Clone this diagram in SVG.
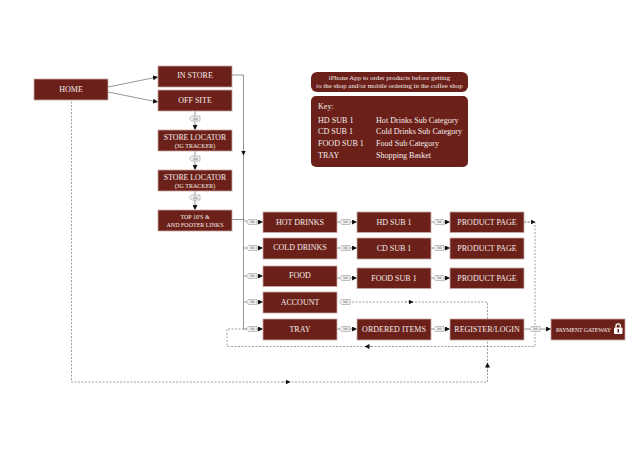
<svg xmlns="http://www.w3.org/2000/svg" width="640" height="453" viewBox="0 0 640 453">
<defs>
<marker id="a" markerWidth="5" markerHeight="5" refX="4.500" refY="2.500" orient="auto" markerUnits="userSpaceOnUse"><path d="M0,0L5,2.500L0,5Z" fill="#111"/></marker>
<g id="lh"><path d="M-5.500,0L-3.500,-2.500H5V2.500H-3.500Z" fill="#f2f2f2" stroke="#999" stroke-width=".6"/><text x="0.500" y="1.200" class="l">link</text></g>
</defs>
<style>
text{font-family:"Liberation Serif",serif;fill:#f5ecea;text-anchor:middle}
.n{fill:#6b211a;stroke:#c9a8a4;stroke-width:.8}
.t{font-size:8px}
.u{font-size:7.800px}
.s{font-size:6px}
.m{font-size:6.900px}
.k{font-size:8.100px;text-anchor:start}
.l{font-size:3px;fill:#555}
.c{fill:none;stroke:#8a8a8a;stroke-width:.9}
.d{fill:none;stroke:#777;stroke-width:.7;stroke-dasharray:2 1.500}
</style>
<rect width="640" height="453" fill="#fff"/>
<g id="connectors">
<path class="c" d="M108,87L157.500,77" marker-end="url(#a)"/>
<path class="c" d="M108,92L157.500,102" marker-end="url(#a)"/>
<path class="c" d="M195,111V129.500" marker-end="url(#a)"/>
<path class="c" d="M195,151V169.500" marker-end="url(#a)"/>
<path class="c" d="M195,191V209.500" marker-end="url(#a)"/>
<path class="c" d="M232,75H243.500V329H262" />
<path class="c" d="M243.500,150V155" marker-end="url(#a)"/>
<path class="c" d="M232,219.500H243.500L247,222H262.500" marker-end="url(#a)"/>
<path class="c" d="M243.500,248H262.500" marker-end="url(#a)"/>
<path class="c" d="M243.500,276H262.500" marker-end="url(#a)"/>
<path class="c" d="M243.500,302H262.500" marker-end="url(#a)"/>
<path class="c" d="M250,329H262.500" marker-end="url(#a)"/>
<path class="c" d="M337,222H356.500" marker-end="url(#a)"/>
<path class="c" d="M337,248H356.500" marker-end="url(#a)"/>
<path class="c" d="M337,278H356.500" marker-end="url(#a)"/>
<path class="c" d="M337,329H356.500" marker-end="url(#a)"/>
<path class="c" d="M431,222H449.500" marker-end="url(#a)"/>
<path class="c" d="M431,248H449.500" marker-end="url(#a)"/>
<path class="c" d="M431,278H449.500" marker-end="url(#a)"/>
<path class="c" d="M431,329H449.500" marker-end="url(#a)"/>
<path class="c" d="M524,329H550.500" marker-end="url(#a)"/>
<path class="d" d="M524,222H535V346.500H227V329H246"/>
<path class="d" d="M524,222H535" marker-end="url(#a)"/>
<path class="d" d="M372,346.500H365" marker-end="url(#a)"/>
<path class="d" d="M345,302H487.500V382H71.500V100"/>
<path class="d" d="M405,302H413" marker-end="url(#a)"/>
<path class="d" d="M487.500,372V363" marker-end="url(#a)"/>
<path class="d" d="M282,382H290" marker-end="url(#a)"/>
<use href="#lh" x="195" y="118.500"/>
<use href="#lh" x="195" y="158.500"/>
<use href="#lh" x="195" y="197.500"/>
<use href="#lh" x="252" y="222"/>
<use href="#lh" x="252" y="248"/>
<use href="#lh" x="252" y="276"/>
<use href="#lh" x="252" y="302"/>
<use href="#lh" x="252" y="329"/>
<use href="#lh" x="345" y="222"/>
<use href="#lh" x="345" y="248"/>
<use href="#lh" x="345" y="278"/>
<use href="#lh" x="345" y="302"/>
<use href="#lh" x="345" y="329"/>
<use href="#lh" x="439" y="222"/>
<use href="#lh" x="439" y="248"/>
<use href="#lh" x="439" y="278"/>
<use href="#lh" x="439" y="329"/>
<use href="#lh" x="535" y="329"/>
</g>
<g id="home"><rect class="n" x="34" y="79" width="74" height="21"/><text class="t" x="71" y="92">HOME</text></g>
<g id="in-store"><rect class="n" x="158" y="66" width="74" height="21"/><text class="t" x="195" y="78">IN STORE</text></g>
<g id="off-site"><rect class="n" x="158" y="90" width="74" height="21"/><text class="t" x="195" y="103">OFF SITE</text></g>
<g id="store-locator-1"><rect class="n" x="158" y="130" width="74" height="21"/><text class="u" x="195" y="139.500">STORE LOCATOR</text><text class="s" x="195" y="147.500">(3G TRACKER)</text></g>
<g id="store-locator-2"><rect class="n" x="158" y="170" width="74" height="21"/><text class="u" x="195" y="179.500">STORE LOCATOR</text><text class="s" x="195" y="187.500">(3G TRACKER)</text></g>
<g id="top-10"><rect class="n" x="158" y="210" width="74" height="21"/><text class="s" x="195" y="219">TOP 10'S &amp;</text><text class="s" x="195" y="226.500">AND FOOTER LINKS</text></g>
<g id="hot-drinks"><rect class="n" x="263" y="212" width="74" height="20.500"/><text class="t" x="300" y="224.500">HOT DRINKS</text></g>
<g id="cold-drinks"><rect class="n" x="263" y="238" width="74" height="21"/><text class="t" x="300" y="250">COLD DRINKS</text></g>
<g id="food"><rect class="n" x="263" y="266" width="74" height="20.500"/><text class="t" x="300" y="278">FOOD</text></g>
<g id="account"><rect class="n" x="263" y="292" width="74" height="21"/><text class="t" x="300" y="304.500">ACCOUNT</text></g>
<g id="tray"><rect class="n" x="263" y="319" width="74" height="21"/><text class="t" x="300" y="331.500">TRAY</text></g>
<g id="hd-sub"><rect class="n" x="357" y="212" width="74" height="20.500"/><text class="t" x="394" y="224.500">HD SUB 1</text></g>
<g id="cd-sub"><rect class="n" x="357" y="238" width="74" height="21"/><text class="t" x="394" y="251">CD SUB 1</text></g>
<g id="food-sub"><rect class="n" x="357" y="268" width="74" height="20.500"/><text class="t" x="394" y="280.500">FOOD SUB 1</text></g>
<g id="ordered-items"><rect class="n" x="357" y="319" width="74" height="21"/><text class="t" x="394" y="331.500">ORDERED ITEMS</text></g>
<g id="product-1"><rect class="n" x="450" y="212" width="74" height="20.500"/><text class="t" x="487" y="224.500">PRODUCT PAGE</text></g>
<g id="product-2"><rect class="n" x="450" y="238" width="74" height="21"/><text class="t" x="487" y="250.500">PRODUCT PAGE</text></g>
<g id="product-3"><rect class="n" x="450" y="268" width="74" height="20.500"/><text class="t" x="487" y="280.500">PRODUCT PAGE</text></g>
<g id="register"><rect class="n" x="450" y="319" width="74" height="21"/><text class="t" x="487" y="331.500">REGISTER/LOGIN</text></g>
<g id="payment"><rect class="n" x="551" y="319" width="74" height="21"/><text class="s" x="583.500" y="332" textLength="55">PAYMENT GATEWAY</text>
<path d="M616,327.500V326a2.200,2.200 0 0 1 4.400,0V327.500" fill="none" stroke="#fff" stroke-width="1.300"/><rect x="614" y="327.500" width="8.500" height="6.500" rx="1" fill="#fff"/><rect x="617.500" y="329" width="1.500" height="3.500" fill="#6b211a"/></g>
<g id="note"><rect x="311" y="72" width="157" height="20" rx="6" fill="#6b211a"/><text class="m" x="389.500" y="79.500">iPhone App to order products before getting</text><text class="m" x="389.500" y="87.500">to the shop and/or mobile  ordering in the coffee shop</text></g>
<g id="key"><rect x="311" y="96" width="157" height="71" rx="5" fill="#6b211a"/>
<text class="k" x="318" y="108.500">Key:</text>
<text class="k" x="318" y="122.500">HD SUB 1</text><text class="k" x="376" y="122.500">Hot Drinks Sub Category</text>
<text class="k" x="318" y="134">CD SUB 1</text><text class="k" x="376" y="134">Cold Drinks Sub Category</text>
<text class="k" x="318" y="146">FOOD SUB 1</text><text class="k" x="376" y="146">Food Sub Category</text>
<text class="k" x="318" y="157.500">TRAY</text><text class="k" x="376" y="157.500">Shopping Basket</text></g>
</svg>
